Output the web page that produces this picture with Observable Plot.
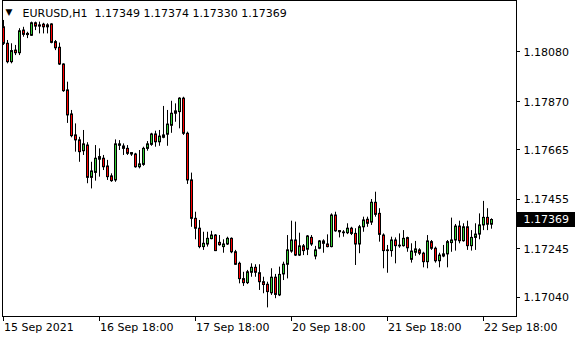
<!DOCTYPE html>
<html><head><meta charset="utf-8">
<script src="https://cdn.jsdelivr.net/npm/d3@7"></script>
<script src="https://cdn.jsdelivr.net/npm/@observablehq/plot@0.6"></script>
<style>
html,body{margin:0;padding:0;background:#fff;}
#chart{width:580px;height:340px;overflow:hidden;}
</style></head><body><div id="chart"></div>
<script>
const symbol = "EURUSD,H1";
const opens = [1.18187,1.18117,1.18039,1.18088,1.18077,1.18173,1.18154,1.18151,1.18204,1.18195,
1.18198,1.18195,1.18199,1.18124,1.18100,1.18029,1.17919,1.17817,1.17728,1.17707,
1.17661,1.17685,1.17548,1.17569,1.17625,1.17629,1.17596,1.17554,1.17537,1.17684,
1.17681,1.17671,1.17647,1.17647,1.17593,1.17603,1.17671,1.17688,1.17732,1.17699,
1.17718,1.17731,1.17769,1.17820,1.17827,1.17884,1.17735,1.17537,1.17374,1.17332,
1.17254,1.17265,1.17288,1.17303,1.17272,1.17254,1.17265,1.17289,1.17232,1.17183,
1.17118,1.17101,1.17145,1.17166,1.17143,1.17105,1.17094,1.17058,1.17124,1.17049,
1.17138,1.17179,1.17235,1.17282,1.17218,1.17257,1.17243,1.17293,1.17214,1.17247,
1.17278,1.17265,1.17254,1.17388,1.17322,1.17316,1.17313,1.17332,1.17310,1.17265,
1.17338,1.17370,1.17358,1.17442,1.17395,1.17303,1.17240,1.17237,1.17282,1.17260,
1.17258,1.17292,1.17200,1.17230,1.17240,1.17226,1.17190,1.17275,1.17247,1.17194,
1.17214,1.17223,1.17271,1.17282,1.17341,1.17279,1.17338,1.17258,1.17293,1.17307,
1.17346,1.17378,1.17349];
const highs = [1.18216,1.18131,1.18117,1.18110,1.18181,1.18187,1.18166,1.18209,1.18209,1.18209,
1.18204,1.18202,1.18202,1.18131,1.18120,1.18032,1.17954,1.17834,1.17777,1.17720,
1.17749,1.17697,1.17614,1.17685,1.17671,1.17643,1.17622,1.17565,1.17709,1.17706,
1.17692,1.17685,1.17655,1.17652,1.17664,1.17678,1.17702,1.17737,1.17746,1.17749,
1.17851,1.17834,1.17873,1.17862,1.17888,1.17890,1.17742,1.17568,1.17402,1.17367,
1.17317,1.17317,1.17321,1.17307,1.17303,1.17285,1.17296,1.17293,1.17240,1.17190,
1.17147,1.17155,1.17183,1.17179,1.17179,1.17126,1.17105,1.17162,1.17138,1.17169,
1.17190,1.17303,1.17364,1.17360,1.17313,1.17265,1.17303,1.17303,1.17257,1.17282,
1.17285,1.17306,1.17395,1.17402,1.17324,1.17324,1.17353,1.17338,1.17332,1.17346,
1.17381,1.17381,1.17456,1.17487,1.17417,1.17310,1.17261,1.17296,1.17293,1.17310,
1.17324,1.17296,1.17268,1.17278,1.17247,1.17232,1.17303,1.17282,1.17254,1.17228,
1.17261,1.17282,1.17377,1.17350,1.17364,1.17353,1.17364,1.17324,1.17353,1.17395,
1.17448,1.17417,1.17374];
const lows = [1.18110,1.18032,1.18032,1.18067,1.18067,1.18145,1.18139,1.18148,1.18173,1.18159,
1.18159,1.18159,1.18117,1.18088,1.18025,1.17911,1.17779,1.17718,1.17657,1.17614,
1.17643,1.17523,1.17501,1.17534,1.17551,1.17579,1.17537,1.17529,1.17529,1.17664,
1.17643,1.17643,1.17639,1.17589,1.17586,1.17597,1.17661,1.17682,1.17678,1.17682,
1.17714,1.17682,1.17737,1.17784,1.17756,1.17728,1.17520,1.17338,1.17285,1.17247,
1.17240,1.17254,1.17285,1.17235,1.17258,1.17228,1.17261,1.17226,1.17176,1.17098,
1.17087,1.17095,1.17126,1.17126,1.17070,1.17056,1.16996,1.17049,1.17035,1.17044,
1.17112,1.17119,1.17228,1.17214,1.17214,1.17218,1.17218,1.17257,1.17200,1.17243,
1.17228,1.17251,1.17251,1.17317,1.17293,1.17296,1.17307,1.17303,1.17176,1.17226,
1.17317,1.17338,1.17346,1.17381,1.17275,1.17162,1.17143,1.17211,1.17183,1.17249,
1.17254,1.17232,1.17186,1.17215,1.17218,1.17166,1.17162,1.17240,1.17186,1.17166,
1.17209,1.17166,1.17232,1.17237,1.17268,1.17275,1.17240,1.17237,1.17240,1.17285,
1.17324,1.17324,1.17330];
const closes = [1.18117,1.18039,1.18086,1.18077,1.18170,1.18155,1.18159,1.18204,1.18190,1.18190,
1.18187,1.18187,1.18121,1.18098,1.18029,1.17916,1.17813,1.17725,1.17707,1.17657,
1.17690,1.17548,1.17575,1.17629,1.17636,1.17593,1.17551,1.17534,1.17690,1.17690,
1.17671,1.17650,1.17653,1.17593,1.17605,1.17671,1.17690,1.17732,1.17699,1.17723,
1.17728,1.17774,1.17820,1.17830,1.17884,1.17735,1.17537,1.17374,1.17332,1.17254,
1.17268,1.17289,1.17303,1.17237,1.17262,1.17265,1.17289,1.17232,1.17179,1.17118,
1.17101,1.17147,1.17166,1.17145,1.17105,1.17093,1.17063,1.17124,1.17051,1.17136,
1.17179,1.17240,1.17282,1.17218,1.17257,1.17237,1.17299,1.17265,1.17240,1.17278,
1.17268,1.17254,1.17388,1.17321,1.17317,1.17313,1.17332,1.17310,1.17265,1.17338,
1.17367,1.17353,1.17442,1.17391,1.17306,1.17237,1.17237,1.17282,1.17258,1.17257,
1.17289,1.17249,1.17235,1.17244,1.17226,1.17190,1.17278,1.17247,1.17194,1.17218,
1.17223,1.17275,1.17282,1.17341,1.17279,1.17338,1.17258,1.17293,1.17307,1.17346,
1.17378,1.17349,1.17369];
const timeTickIndex = [0, 24, 48, 72, 96, 120];
const timeTickLabels = ["15 Sep 2021", "16 Sep 18:00", "17 Sep 18:00", "20 Sep 18:00", "21 Sep 18:00", "22 Sep 18:00"];
const priceTicks = [1.18080, 1.17870, 1.17665, 1.17455, 1.17245, 1.17040];

const bars = opens.map((o, i) => ({i, o, h: highs[i], l: lows[i], c: closes[i]}));
const upBars = bars.filter(d => d.c >= d.o);
const downBars = bars.filter(d => d.c < d.o);
const last = bars[bars.length - 1];
const header = `${symbol}\u00a0\u00a0${[last.o, last.h, last.l, last.c].map(v => v.toFixed(5)).join(" ")}`;
const timeTicks = timeTickIndex.map((i, k) => ({i, label: timeTickLabels[k]}));

function decorations(index, scales, values, dims) {
  const {x, y} = scales;
  const right = dims.width - dims.marginRight;
  const bottom = dims.height - dims.marginBottom;
  const g = d3.create("svg:g").attr("stroke", "black").attr("shape-rendering", "crispEdges");
  for (const p of priceTicks) {
    const py = Math.floor(y(p)) + 0.5;
    g.append("line").attr("x1", right).attr("x2", right + 4).attr("y1", py).attr("y2", py);
  }
  for (const t of timeTickIndex) {
    const px = Math.floor(x(t)) + 0.5;
    g.append("line").attr("x1", px).attr("x2", px).attr("y1", bottom + 1).attr("y2", bottom + 5);
  }
  const yc = y(last.c);
  g.append("rect").attr("x", right + 1).attr("y", Math.round(yc) - 7).attr("width", 58).attr("height", 15)
    .attr("fill", "black").attr("stroke", "none");
  g.append("text").attr("x", right + 7.5).attr("y", yc).attr("dy", "0.32em")
    .attr("text-anchor", "start")
    .attr("fill", "white").attr("stroke", "none")
    .attr("font-family", "DejaVu Sans").attr("font-size", 11).text(last.c.toFixed(5));
  return g.node();
}

const chart = Plot.plot({
  width: 580,
  height: 340,
  marginLeft: 2,
  marginRight: 64,
  marginTop: 0,
  marginBottom: 24,
  style: {background: "white", fontFamily: "DejaVu Sans", fontSize: "11px", color: "black"},
  x: {type: "linear", domain: [-0.375, 128.125], axis: null},
  y: {type: "linear", domain: [1.1695936, 1.1830073], axis: null},
  marks: [
    Plot.rect(bars, {x1: d => d.i - 0.125, x2: d => d.i + 0.125, y1: "l", y2: "h", fill: "black"}),
    Plot.rect(upBars, {x1: d => d.i - 0.25, x2: d => d.i + 0.25, y1: "o", y2: "c", fill: "#32cd32", stroke: "black", strokeWidth: 1}),
    Plot.rect(downBars, {x1: d => d.i - 0.25, x2: d => d.i + 0.25, y1: "o", y2: "c", fill: "#ff0000", stroke: "black", strokeWidth: 1}),
    Plot.frame({stroke: "black"}),
    Plot.text(priceTicks, {y: d => d, text: d => d.toFixed(5), frameAnchor: "right", textAnchor: "start", dx: 7, fill: "black", fontSize: 11}),
    Plot.text(timeTicks, {x: "i", text: "label", frameAnchor: "bottom", textAnchor: "start", lineAnchor: "middle", dy: 11, fill: "black", fontSize: 11}),
    Plot.text(["\u25BC"], {frameAnchor: "top-left", textAnchor: "start", lineAnchor: "top", dx: 3, dy: 8, fontSize: 9, fill: "black"}),
    Plot.text([header], {frameAnchor: "top-left", textAnchor: "start", lineAnchor: "top", dx: 20, dy: 9, fontSize: 11, fill: "black"}),
    decorations
  ]
});
document.getElementById("chart").appendChild(chart);
</script></body></html>
